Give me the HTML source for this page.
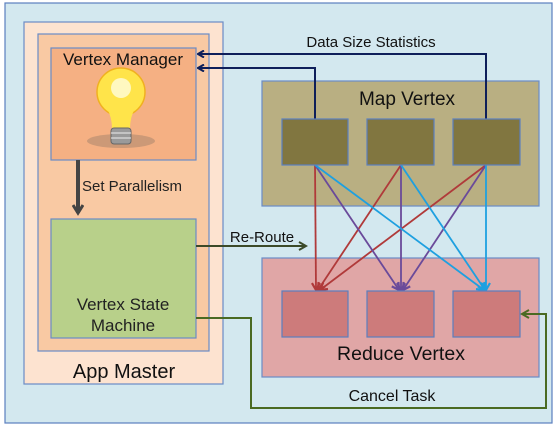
<!DOCTYPE html>
<html><head><style>
body{margin:0;background:#fff;}
svg text{font-family:"Liberation Sans",sans-serif;}
</style></head><body>
<svg width="557" height="430" viewBox="0 0 557 430" xmlns="http://www.w3.org/2000/svg">
<defs>
<marker id="an" markerWidth="8" markerHeight="8" refX="7" refY="4" orient="auto" markerUnits="userSpaceOnUse"><path d="M1,0.5 L7,4 L1,7.5" fill="none" stroke="#0e1f5a" stroke-width="2"/></marker>
<marker id="ar" markerWidth="10" markerHeight="10" refX="8" refY="5" orient="auto" markerUnits="userSpaceOnUse"><path d="M1,1 L8,5 L1,9" fill="none" stroke="#b03a3a" stroke-width="2.2"/></marker>
<marker id="ap" markerWidth="10" markerHeight="10" refX="8" refY="5" orient="auto" markerUnits="userSpaceOnUse"><path d="M1,1 L8,5 L1,9" fill="none" stroke="#6a4a9a" stroke-width="2.2"/></marker>
<marker id="ab" markerWidth="10" markerHeight="10" refX="8" refY="5" orient="auto" markerUnits="userSpaceOnUse"><path d="M1,1 L8,5 L1,9" fill="none" stroke="#1ea0e0" stroke-width="2.2"/></marker>
<marker id="ag" markerWidth="10" markerHeight="10" refX="8" refY="5" orient="auto" markerUnits="userSpaceOnUse"><path d="M1,1 L8,5 L1,9" fill="none" stroke="#3c4a28" stroke-width="2"/></marker>
<marker id="ag2" markerWidth="10" markerHeight="10" refX="8" refY="5" orient="auto" markerUnits="userSpaceOnUse"><path d="M1,1 L8,5 L1,9" fill="none" stroke="#4a6a22" stroke-width="2"/></marker>
<marker id="ad" markerWidth="12" markerHeight="12" refX="9" refY="6" orient="auto" markerUnits="userSpaceOnUse"><path d="M1,1 L9,6 L1,11" fill="none" stroke="#444" stroke-width="3"/></marker>
</defs>
<rect x="5" y="3" width="547" height="420" fill="#d3e8ef" stroke="#5b7fbf" stroke-width="1.2"/>
<rect x="24" y="22" width="199" height="362" fill="#fde3d0" stroke="#6a8cc6" stroke-width="1.2"/>
<rect x="38" y="34" width="171" height="317" fill="#f9c9a3" stroke="#6a8cc6" stroke-width="1.2"/>
<rect x="51" y="48" width="145" height="112" fill="#f5b083" stroke="#6a8cc6" stroke-width="1.2"/>
<text x="123" y="65" font-size="17" text-anchor="middle" fill="#111">Vertex Manager</text>
<ellipse cx="121" cy="141" rx="34" ry="7" fill="#b08a70" opacity="0.6"/>
<circle cx="121" cy="92" r="24" fill="#ffe44a" stroke="#f0b020" stroke-width="1.5"/>
<circle cx="121" cy="88" r="10" fill="#fff8c0"/>
<path d="M107,108 Q112,118 112,128 L130,128 Q130,118 135,108 Z" fill="#ffe44a"/>
<rect x="111" y="128" width="20" height="16" rx="3" fill="#9a9a9a" stroke="#666"/>
<line x1="111" y1="133" x2="131" y2="133" stroke="#eee"/><line x1="111" y1="138" x2="131" y2="138" stroke="#eee"/>
<line x1="78" y1="160" x2="78" y2="213" stroke="#444" stroke-width="4" marker-end="url(#ad)"/>
<text x="82" y="191" font-size="15" fill="#222">Set Parallelism</text>
<rect x="51" y="219" width="145" height="119" fill="#b8d08a" stroke="#6a8cc6" stroke-width="1.2"/>
<text x="123" y="310" font-size="17" text-anchor="middle" fill="#222">Vertex State</text>
<text x="123" y="331" font-size="17" text-anchor="middle" fill="#222">Machine</text>
<text x="124" y="378" font-size="20" text-anchor="middle" fill="#111">App Master</text>
<rect x="262" y="81" width="277" height="125" fill="#b9af82" stroke="#6a8cc6" stroke-width="1.2"/>
<text x="407" y="105" font-size="19" text-anchor="middle" fill="#111">Map Vertex</text>
<rect x="262" y="258" width="277" height="119" fill="#e0a6a6" stroke="#6a8cc6" stroke-width="1.2"/>
<text x="401" y="360" font-size="19.5" text-anchor="middle" fill="#111">Reduce Vertex</text>
<path d="M315,119 V68 H198" fill="none" stroke="#0e1f5a" stroke-width="2" marker-end="url(#an)"/>
<path d="M486,119 V54 H198" fill="none" stroke="#0e1f5a" stroke-width="2" marker-end="url(#an)"/>
<text x="371" y="47" font-size="15" text-anchor="middle" fill="#111">Data Size Statistics</text>
<g stroke-width="1.8" fill="none">
<line x1="315" y1="165" x2="316" y2="290" stroke="#b03a3a" marker-end="url(#ar)"/>
<line x1="401" y1="165" x2="318" y2="290" stroke="#b03a3a" marker-end="url(#ar)"/>
<line x1="486" y1="165" x2="320" y2="290" stroke="#b03a3a" marker-end="url(#ar)"/>
<line x1="315" y1="165" x2="399" y2="290" stroke="#6a4a9a" marker-end="url(#ap)"/>
<line x1="401" y1="165" x2="401" y2="290" stroke="#6a4a9a" marker-end="url(#ap)"/>
<line x1="486" y1="165" x2="403" y2="290" stroke="#6a4a9a" marker-end="url(#ap)"/>
<line x1="315" y1="165" x2="484" y2="290" stroke="#1ea0e0" marker-end="url(#ab)"/>
<line x1="401" y1="165" x2="485" y2="290" stroke="#1ea0e0" marker-end="url(#ab)"/>
<line x1="486" y1="165" x2="486" y2="290" stroke="#1ea0e0" marker-end="url(#ab)"/>
</g>
<g fill="#817640" stroke="#5b7fbf" stroke-width="1.2">
<rect x="282" y="119" width="66" height="46"/><rect x="367" y="119" width="67" height="46"/><rect x="453" y="119" width="67" height="46"/>
</g>
<g fill="#cd7b7b" stroke="#5b7fbf" stroke-width="1.2">
<rect x="282" y="291" width="66" height="46"/><rect x="367" y="291" width="67" height="46"/><rect x="453" y="291" width="67" height="46"/>
</g>
<line x1="196" y1="246" x2="306" y2="246" stroke="#3c4a28" stroke-width="2" marker-end="url(#ag)"/>
<text x="262" y="242" font-size="15" text-anchor="middle" fill="#111">Re-Route</text>
<path d="M196,318 H251 V408 H546 V314 H522" fill="none" stroke="#4a6a22" stroke-width="2" marker-end="url(#ag2)"/>
<text x="392" y="401" font-size="16" text-anchor="middle" fill="#111">Cancel Task</text>
</svg>
</body></html>
